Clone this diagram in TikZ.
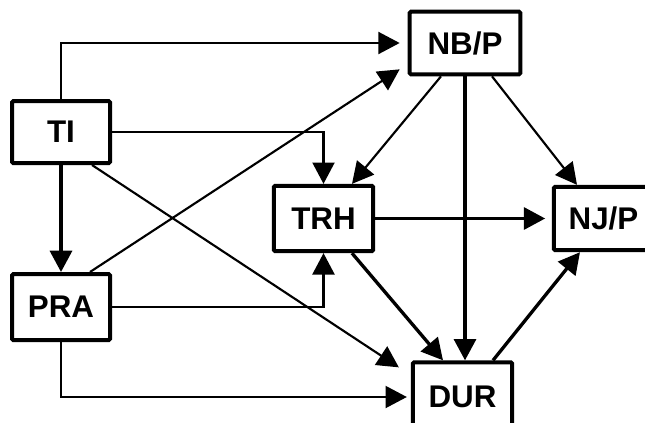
\documentclass[tikz,border=0pt]{standalone}
\usepackage{fontspec}
\setmainfont{Liberation Sans}
\usetikzlibrary{arrows.meta,calc}
\begin{document}
\begin{tikzpicture}[x=0.75pt,y=-0.75pt,
  box/.style={draw, line width=3pt, rounded corners=1pt, inner sep=0pt, font=\fontsize{23.5}{27}\selectfont\bfseries},
  thinarr/.style={line width=1.6pt, -{Triangle[length=16pt,width=16.5pt]}},
  thickarr/.style={line width=2.5pt, -{Triangle[length=16pt,width=16.5pt]}}]
\useasboundingbox (0,0) rectangle (645,422);
\fill[white] (0,0) rectangle (645,422);
\clip (0,0) rectangle (645,422);

\node[box, minimum width=73.5pt, minimum height=46.5pt] (ti) at (61,132) {TI};
\node[box, minimum width=83pt, minimum height=47pt] (nbp) at (465,43) {NB/P};
\node[box, minimum width=73.5pt, minimum height=49.5pt] (pra) at (61,307) {PRA};
\node[box, minimum width=74.5pt, minimum height=49pt] (trh) at (323.5,218.5) {TRH};
\node[box, minimum width=74.5pt, minimum height=47.5pt] (njp) at (603.5,218.5) {NJ/P};
\node[box, minimum width=74.5pt, minimum height=52pt] (dur) at (462.5,397) {DUR};

\draw[thinarr, shorten >=6pt] (ti.north) |- (nbp.west);
\draw[thinarr] (ti.east) -| (trh.north);
\draw[thickarr] (ti.south) -- (pra.north);
\draw[thinarr] ($(ti.south)+(31,0)$) -- ($(dur.north west)+(-12,7)$);
\draw[thinarr] ($(pra.north)+(29,0)$) -- ($(nbp.south west)+(-8,-7)$);
\draw[thinarr] (pra.east) -| (trh.south);
\draw[thinarr, shorten >=3pt] (pra.south) |- (dur.west);
\draw[thinarr] ($(nbp.south)+(-24,0)$) -- ($(trh.north)+(28.5,0)$);
\draw[thickarr] (nbp.south) -- (nbp.south |- dur.north);
\draw[thinarr] ($(nbp.south)+(27,0)$) -- ($(njp.north)+(-26.5,0)$);
\draw[thickarr, shorten >=5pt] (trh.east) -- (njp.west);
\draw[thickarr] ($(trh.south)+(28.5,0)$) -- ($(dur.north)+(-19.5,0)$);
\draw[thickarr] ($(dur.north)+(30.5,0)$) -- ($(njp.south)+(-23.5,0)$);
\end{tikzpicture}
\end{document}
